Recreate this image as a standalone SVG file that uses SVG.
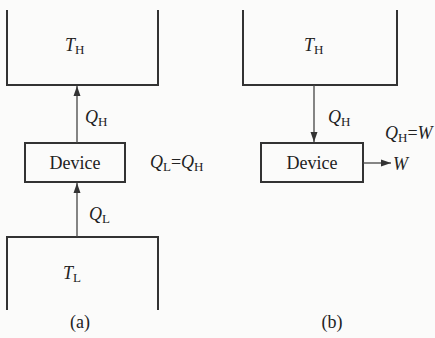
<svg xmlns="http://www.w3.org/2000/svg" width="435" height="338" viewBox="0 0 435 338">
<defs>
<marker id="ah" viewBox="0 0 10 10" refX="10" refY="5" markerWidth="10" markerHeight="10" markerUnits="userSpaceOnUse" orient="auto">
<path d="M0,1.5 L10,5 L0,8.5 Z" fill="#333"/>
</marker>
</defs>
<style>
.res{fill:none;stroke:#333;stroke-width:2}
.box{fill:none;stroke:#333;stroke-width:2}
.arr{fill:none;stroke:#444;stroke-width:1.3;marker-end:url(#ah)}
text{font-family:"Liberation Serif","Times New Roman",serif;fill:#222;font-size:18px}
.i{font-style:italic}
.s{font-size:13px}
</style>
<rect width="435" height="338" fill="#fbfbfa"/>
<g id="reservoir-TH-a">
<path class="res" d="M7,10 V85 H158 V10"/>
<text x="65" y="51"><tspan class="i">T</tspan><tspan class="s" dy="3">H</tspan></text>
</g>
<g id="device-a">
<rect class="box" x="25" y="143" width="100" height="39"/>
<text x="75" y="169" text-anchor="middle">Device</text>
</g>
<g id="reservoir-TL-a">
<path class="res" d="M7,310 V237 H158 V310"/>
<text x="63" y="279"><tspan class="i">T</tspan><tspan class="s" dy="3">L</tspan></text>
</g>
<g id="reservoir-TH-b">
<path class="res" d="M243,10 V85 H397 V10"/>
<text x="304" y="51"><tspan class="i">T</tspan><tspan class="s" dy="3">H</tspan></text>
</g>
<g id="device-b">
<rect class="box" x="261" y="143" width="102" height="39"/>
<text x="312" y="169" text-anchor="middle">Device</text>
</g>
<g id="connectors">
<line class="arr" x1="77" y1="143" x2="77" y2="86"/>
<line class="arr" x1="77" y1="237" x2="77" y2="183"/>
<line class="arr" x1="314" y1="85" x2="314" y2="142"/>
<line class="arr" x1="363" y1="163" x2="391" y2="163"/>
</g>
<g id="labels">
<text x="85" y="123"><tspan class="i">Q</tspan><tspan class="s" dy="3">H</tspan></text>
<text x="89" y="220"><tspan class="i">Q</tspan><tspan class="s" dy="3">L</tspan></text>
<text x="150" y="168"><tspan class="i">Q</tspan><tspan class="s" dy="3">L</tspan><tspan dy="-3">=</tspan><tspan class="i">Q</tspan><tspan class="s" dy="3">H</tspan></text>
<text x="328" y="123"><tspan class="i">Q</tspan><tspan class="s" dy="3">H</tspan></text>
<text x="385" y="139"><tspan class="i">Q</tspan><tspan class="s" dy="3">H</tspan><tspan dy="-3">=</tspan><tspan class="i">W</tspan></text>
<text x="393" y="170" class="i">W</text>
<text x="80" y="328" text-anchor="middle">(a)</text>
<text x="332" y="328" text-anchor="middle">(b)</text>
</g>
</svg>
